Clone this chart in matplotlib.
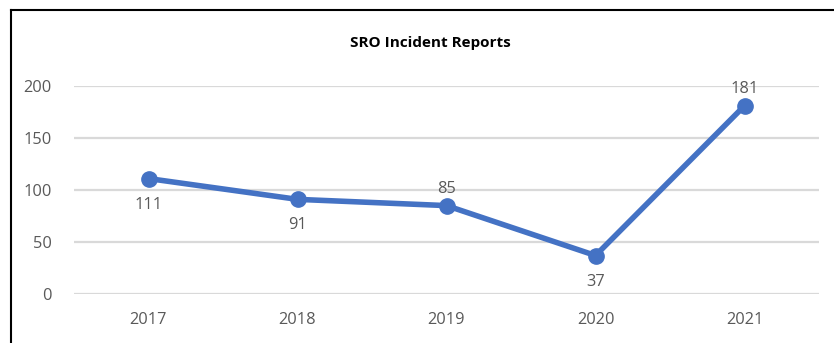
import matplotlib
matplotlib.use("Agg")
import matplotlib.pyplot as plt
from matplotlib.lines import Line2D

years = ["2017", "2018", "2019", "2020", "2021"]
reports = [111, 91, 85, 37, 181]
label_above = [False, False, True, False, True]
y_ticks = [0, 50, 100, 150, 200]

line_color = "#4472C4"
text_color = "#595959"
grid_color = "#D9D9D9"

plt.rcParams["font.family"] = ["Open Sans", "DejaVu Sans"]

fig = plt.figure(figsize=(8.34, 3.43), dpi=100)
ax = fig.add_axes([74 / 834, 1 - 294 / 343, 745 / 834, 208 / 343])

x = list(range(len(years)))
ax.plot(x, reports, color=line_color, lw=4, marker="o", ms=11,
        solid_capstyle="round", clip_on=False, zorder=3)

for xi, v, above in zip(x, reports, label_above):
    off = 6 if above else -13
    ax.annotate(str(v), (xi, v), xytext=(0, off), textcoords="offset points",
                ha="center", va="bottom" if above else "top",
                fontsize=11.8, color=text_color, zorder=4)

ax.set_xlim(-0.5, len(years) - 0.5)
ax.set_ylim(0, 200)
ax.set_yticks(y_ticks)
ax.set_xticks(x)
ax.set_xticklabels(years)
ax.tick_params(axis="both", length=0, labelsize=11.8, labelcolor=text_color)
ax.tick_params(axis="y", pad=16)
ax.tick_params(axis="x", pad=13)
ax.grid(axis="y", color=grid_color, lw=1.6)
ax.set_axisbelow(True)
for s in ax.spines.values():
    s.set_visible(False)

fig.text(430 / 834, 1 - 43 / 343, "SRO Incident Reports", ha="center",
         va="center", fontsize=11, fontweight="bold", color="black")

# chart frame edges
fig.add_artist(Line2D([11 / 834, 1], [1 - 10 / 343] * 2, color="black", lw=1.5,
                      transform=fig.transFigure))
fig.add_artist(Line2D([11 / 834] * 2, [0, 1 - 10 / 343], color="black", lw=1.5,
                      transform=fig.transFigure))

fig.savefig("out.png", dpi=100)
